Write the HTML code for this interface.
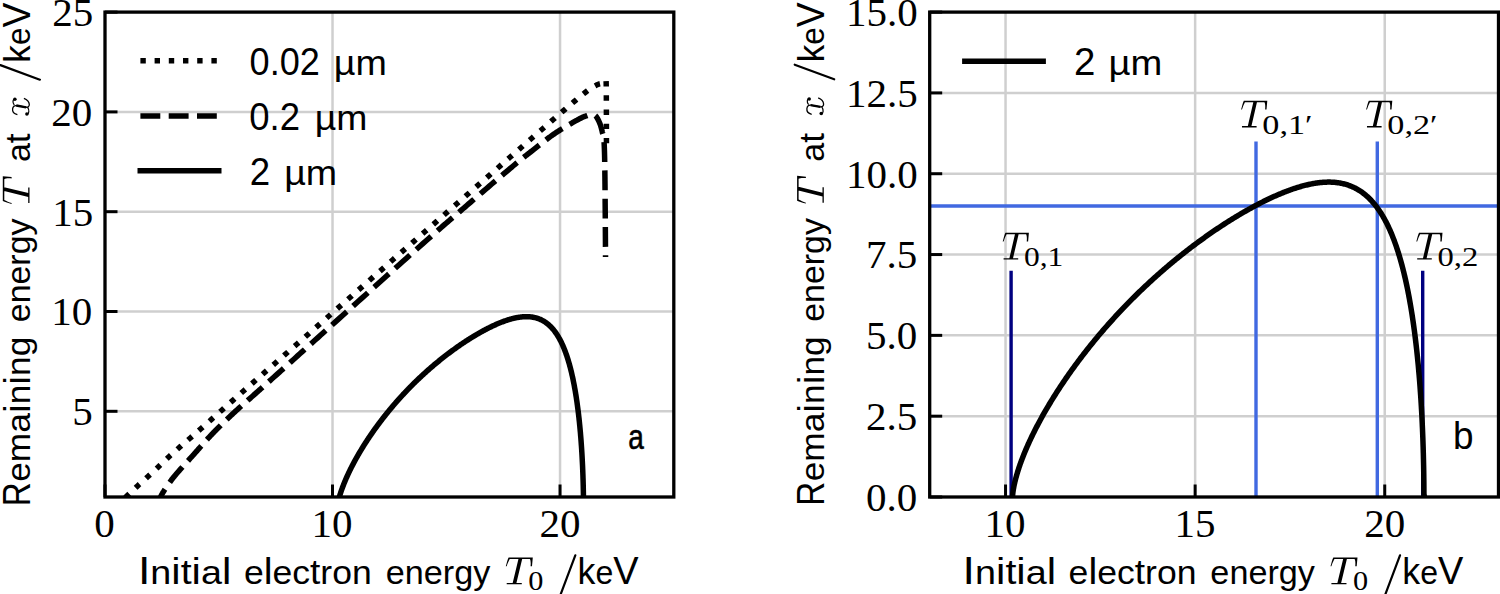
<!DOCTYPE html><html><head><meta charset="utf-8"><style>html,body{margin:0;padding:0;background:#fff;overflow:hidden}svg{display:block}.t{font-family:"Liberation Serif",serif}.s{font-family:"Liberation Sans",sans-serif}.i{font-family:"Liberation Serif",serif;font-style:italic}</style></head><body>
<svg width="1500" height="594" viewBox="0 0 1500 594">
<defs><clipPath id="cl"><rect x="105.00" y="12.10" width="568.80" height="484.90"/></clipPath><path id="Tg" d="M0,-17.9C0.9,-21 1.7,-24.5 2.8,-26.7L26.7,-26.7L25.9,-17.9L24.5,-17.9C24.8,-21.5 24.6,-24 23.8,-25.2L3.9,-25.2C2.8,-23 1.6,-20.5 0.9,-17.9Z M12.5,-25.3L16.2,-25.3L10.5,-1.2L6.8,-1.2Z M0.9,-1.3L15.8,-1.3L15.8,0L0.9,0Z"/><clipPath id="cr"><rect x="929.70" y="12.10" width="568.80" height="484.90"/></clipPath></defs>
<rect width="1500" height="594" fill="#fff"/>
<g stroke="#cfcfcf" stroke-width="2.50"><line x1="332.52" y1="12.10" x2="332.52" y2="497.00"/><line x1="560.04" y1="12.10" x2="560.04" y2="497.00"/><line x1="105.00" y1="411.30" x2="673.80" y2="411.30"/><line x1="105.00" y1="311.50" x2="673.80" y2="311.50"/><line x1="105.00" y1="211.70" x2="673.80" y2="211.70"/><line x1="105.00" y1="111.90" x2="673.80" y2="111.90"/></g>
<g clip-path="url(#cl)" fill="none" stroke="#000" stroke-width="5.50">
<path d="M123.20,499.52 L123.52,499.22 L123.89,498.86 L124.31,498.47 L124.78,498.02 L125.28,497.55 L125.82,497.03 L126.39,496.49 L126.99,495.92 L127.61,495.32 L128.26,494.71 L128.92,494.08 L129.59,493.44 L130.28,492.79 L130.96,492.13 L131.65,491.47 L132.34,490.82 L133.02,490.18 L133.70,489.54 L134.36,488.92 L135.00,488.31 L135.62,487.73 L136.21,487.17 L136.78,486.65 L137.31,486.15 L137.82,485.68 L138.31,485.22 L138.80,484.77 L139.28,484.33 L139.75,483.91 L140.21,483.49 L140.66,483.08 L141.11,482.68 L141.55,482.28 L141.99,481.89 L142.42,481.50 L142.85,481.12 L143.27,480.74 L143.69,480.37 L144.11,480.00 L144.53,479.62 L144.94,479.25 L145.36,478.88 L145.78,478.50 L146.20,478.12 L146.62,477.74 L147.05,477.36 L147.48,476.97 L147.91,476.57 L148.35,476.17 L148.78,475.77 L149.22,475.37 L149.65,474.97 L150.08,474.58 L150.51,474.18 L150.95,473.78 L151.38,473.38 L151.81,472.99 L152.24,472.59 L152.67,472.19 L153.10,471.79 L153.53,471.39 L153.96,470.99 L154.38,470.60 L154.81,470.20 L155.24,469.80 L155.67,469.40 L156.10,469.00 L156.53,468.60 L156.95,468.20 L157.38,467.79 L157.81,467.39 L158.24,466.99 L158.67,466.58 L159.09,466.18 L159.52,465.77 L159.95,465.37 L160.37,464.96 L160.80,464.55 L161.22,464.14 L161.64,463.74 L162.07,463.33 L162.49,462.92 L162.91,462.51 L163.34,462.10 L163.76,461.69 L164.18,461.28 L164.61,460.87 L165.03,460.46 L165.46,460.05 L165.89,459.64 L166.32,459.24 L166.75,458.83 L167.18,458.42 L167.61,458.02 L168.04,457.61 L168.48,457.21 L168.91,456.81 L169.32,456.43 L169.72,456.06 L170.11,455.70 L170.49,455.35 L170.87,455.01 L171.24,454.67 L171.61,454.33 L171.98,454.00 L172.36,453.66 L172.74,453.31 L173.13,452.97 L173.53,452.61 L173.93,452.25 L174.36,451.87 L174.80,451.48 L175.26,451.07 L175.74,450.65 L176.24,450.21 L176.77,449.74 L177.32,449.25 L177.90,448.74 L178.52,448.20 L179.17,447.63 L179.84,447.04 L180.52,446.45 L181.20,445.86 L181.89,445.26 L182.59,444.65 L183.31,444.03 L184.04,443.41 L184.78,442.76 L185.55,442.10 L186.33,441.43 L187.14,440.73 L187.97,440.02 L188.83,439.28 L189.72,438.51 L190.64,437.72 L191.58,436.90 L192.57,436.05 L193.59,435.16 L194.64,434.25 L195.74,433.29 L196.88,432.30 L198.06,431.26 L199.28,430.19 L200.56,429.06 L201.87,427.91 L203.20,426.73 L204.55,425.53 L205.94,424.31 L207.34,423.06 L208.78,421.78 L210.25,420.48 L211.75,419.14 L213.28,417.78 L214.85,416.38 L216.46,414.95 L218.11,413.48 L219.79,411.98 L221.52,410.44 L223.29,408.87 L225.11,407.25 L226.98,405.59 L228.90,403.89 L230.86,402.15 L232.88,400.36 L234.95,398.53 L237.08,396.65 L239.27,394.72 L241.51,392.74 L243.81,390.71 L246.17,388.64 L248.58,386.52 L251.04,384.35 L253.56,382.15 L256.12,379.90 L258.74,377.60 L261.40,375.27 L264.11,372.89 L266.86,370.48 L269.67,368.02 L272.51,365.53 L275.40,363.00 L278.33,360.43 L281.31,357.82 L284.32,355.18 L287.37,352.51 L290.46,349.80 L293.59,347.05 L296.76,344.28 L299.96,341.47 L303.20,338.63 L306.47,335.76 L309.77,332.86 L313.12,329.91 L316.56,326.89 L320.06,323.81 L323.62,320.68 L327.24,317.49 L330.92,314.26 L334.65,310.98 L338.42,307.66 L342.23,304.30 L346.08,300.92 L349.95,297.51 L353.85,294.07 L357.77,290.62 L361.70,287.16 L365.65,283.69 L369.60,280.21 L373.55,276.74 L377.49,273.27 L381.43,269.81 L385.34,266.37 L389.24,262.94 L393.12,259.54 L396.97,256.16 L400.78,252.82 L404.60,249.46 L408.49,246.05 L412.43,242.60 L416.42,239.11 L420.44,235.58 L424.49,232.04 L428.55,228.48 L432.63,224.91 L436.70,221.34 L440.77,217.79 L444.82,214.24 L448.84,210.73 L452.83,207.24 L456.77,203.79 L460.66,200.39 L464.48,197.05 L468.24,193.76 L471.91,190.55 L475.50,187.42 L478.99,184.37 L482.37,181.41 L485.63,178.55 L488.78,175.81 L491.78,173.18 L494.68,170.65 L497.48,168.20 L500.20,165.82 L502.83,163.52 L505.38,161.29 L507.85,159.13 L510.24,157.04 L512.56,155.01 L514.81,153.05 L516.99,151.14 L519.11,149.30 L521.16,147.50 L523.15,145.76 L525.09,144.08 L526.97,142.44 L528.79,140.84 L530.57,139.29 L532.30,137.78 L533.99,136.31 L535.63,134.88 L537.23,133.48 L538.80,132.11 L540.34,130.78 L541.84,129.46 L543.28,128.21 L544.62,127.04 L545.88,125.94 L547.06,124.91 L548.16,123.95 L549.20,123.05 L550.17,122.20 L551.08,121.40 L551.95,120.64 L552.77,119.93 L553.56,119.24 L554.31,118.59 L555.04,117.95 L555.75,117.33 L556.45,116.73 L557.14,116.13 L557.83,115.53 L558.53,114.93 L559.25,114.31 L559.98,113.68 L560.74,113.03 L561.53,112.35 L562.35,111.65 L563.23,110.90 L564.13,110.13 L565.05,109.34 L565.99,108.54 L566.94,107.73 L567.89,106.91 L568.86,106.08 L569.83,105.25 L570.80,104.42 L571.77,103.59 L572.75,102.76 L573.71,101.94 L574.67,101.12 L575.62,100.32 L576.56,99.52 L577.49,98.74 L578.40,97.98 L579.29,97.24 L580.17,96.51 L581.02,95.81 L581.84,95.14 L582.64,94.49 L583.40,93.87 L584.14,93.29 L584.84,92.74 L585.51,92.22 L586.15,91.73 L586.77,91.26 L587.36,90.82 L587.94,90.40 L588.49,90.01 L589.01,89.63 L589.52,89.28 L590.02,88.94 L590.49,88.62 L590.95,88.32 L591.40,88.04 L591.83,87.76 L592.24,87.50 L592.65,87.25 L593.05,87.02 L593.43,86.79 L593.81,86.57 L594.19,86.35 L594.55,86.15 L594.92,85.94 L595.28,85.75 L595.63,85.55 L595.99,85.35 L596.34,85.17 L596.67,84.99 L597.00,84.83 L597.31,84.69 L597.61,84.55 L597.89,84.43 L598.17,84.32 L598.44,84.21 L598.70,84.12 L598.95,84.04 L599.19,83.96 L599.43,83.89 L599.66,83.83 L599.88,83.77 L600.10,83.72 L600.31,83.68 L600.52,83.63 L600.72,83.59 L600.92,83.55 L601.12,83.51 L601.32,83.47 L601.51,83.44 L601.71,83.40 L601.90,83.36 L602.10,83.32 L602.28,83.28 L602.47,83.24 L602.65,83.21 L602.82,83.18 L602.99,83.16 L603.16,83.13 L603.32,83.11 L603.48,83.10 L603.63,83.08 L603.78,83.08 L603.92,83.07 L604.06,83.07 L604.20,83.07 L604.33,83.08 L604.46,83.09 L604.58,83.11 L604.70,83.13 L604.81,83.15 L604.92,83.18 L605.03,83.22 L605.13,83.26 L605.22,83.31 L605.32,83.36 L605.40,83.37 L605.48,83.30 L605.55,83.17 L605.62,82.98 L605.68,82.74 L605.74,82.48 L605.79,82.20 L605.83,81.91 L605.87,81.62 L605.91,81.35 L605.94,81.11 L605.97,80.91 L606.00,80.76 L606.02,80.68 L606.05,80.67 L606.07,80.75 L606.09,80.93 L606.11,81.21 L606.12,81.63 L606.14,82.17 L606.16,82.87 L606.18,83.72 L606.20,84.75 L606.23,85.95 L606.25,87.40 L606.27,89.13 L606.29,91.11 L606.31,93.31 L606.32,95.72 L606.34,98.30 L606.35,101.03 L606.36,103.89 L606.37,106.84 L606.38,109.87 L606.39,112.95 L606.40,116.05 L606.40,119.15 L606.41,122.23 L606.42,125.25 L606.42,128.19 L606.42,131.02 L606.43,133.73 L606.43,136.28 L606.44,138.65 L606.44,140.82 L606.45,142.76 L606.45,144.44 L606.45,145.83" stroke-dasharray="5.40 8.80" stroke-dashoffset="11.35"/>
<path d="M159.15,500.12 L159.22,499.97 L159.30,499.81 L159.38,499.62 L159.47,499.42 L159.57,499.20 L159.67,498.97 L159.78,498.72 L159.90,498.47 L160.02,498.20 L160.15,497.92 L160.28,497.63 L160.42,497.33 L160.56,497.02 L160.70,496.71 L160.85,496.40 L161.00,496.08 L161.16,495.76 L161.32,495.43 L161.48,495.11 L161.65,494.79 L161.82,494.47 L161.99,494.15 L162.16,493.84 L162.34,493.54 L162.51,493.23 L162.69,492.93 L162.87,492.62 L163.06,492.31 L163.25,492.00 L163.44,491.69 L163.64,491.38 L163.83,491.07 L164.04,490.75 L164.24,490.43 L164.45,490.11 L164.67,489.78 L164.88,489.45 L165.11,489.12 L165.33,488.78 L165.56,488.44 L165.80,488.10 L166.04,487.75 L166.28,487.39 L166.53,487.04 L166.78,486.67 L167.04,486.30 L167.30,485.93 L167.57,485.55 L167.83,485.17 L168.09,484.80 L168.34,484.44 L168.59,484.08 L168.83,483.73 L169.07,483.37 L169.31,483.02 L169.56,482.66 L169.81,482.30 L170.06,481.93 L170.32,481.56 L170.60,481.17 L170.88,480.78 L171.18,480.37 L171.49,479.94 L171.82,479.50 L172.17,479.05 L172.54,478.57 L172.94,478.07 L173.35,477.54 L173.80,476.99 L174.27,476.41 L174.77,475.81 L175.30,475.17 L175.87,474.50 L176.48,473.79 L177.12,473.05 L177.79,472.28 L178.49,471.48 L179.22,470.65 L179.97,469.80 L180.74,468.93 L181.53,468.04 L182.34,467.14 L183.16,466.22 L183.99,465.29 L184.83,464.35 L185.68,463.41 L186.53,462.47 L187.39,461.52 L188.24,460.57 L189.09,459.63 L189.93,458.70 L190.76,457.77 L191.59,456.86 L192.39,455.96 L193.19,455.08 L193.96,454.21 L194.72,453.36 L195.47,452.52 L196.22,451.68 L196.96,450.84 L197.69,450.01 L198.42,449.18 L199.15,448.35 L199.88,447.52 L200.60,446.70 L201.33,445.88 L202.05,445.06 L202.78,444.23 L203.51,443.41 L204.24,442.59 L204.97,441.77 L205.72,440.94 L206.46,440.12 L207.22,439.29 L207.98,438.46 L208.75,437.63 L209.53,436.79 L210.32,435.95 L211.12,435.10 L211.93,434.25 L212.76,433.40 L213.60,432.54 L214.44,431.67 L215.30,430.80 L216.17,429.92 L217.04,429.04 L217.92,428.16 L218.81,427.28 L219.70,426.39 L220.60,425.50 L221.50,424.61 L222.41,423.73 L223.32,422.84 L224.23,421.95 L225.14,421.07 L226.06,420.19 L226.97,419.31 L227.89,418.43 L228.80,417.56 L229.71,416.70 L230.62,415.84 L231.52,414.98 L232.43,414.14 L233.32,413.30 L234.22,412.46 L235.11,411.64 L236.01,410.81 L236.90,409.99 L237.80,409.18 L238.70,408.37 L239.60,407.56 L240.50,406.76 L241.40,405.96 L242.29,405.16 L243.19,404.37 L244.09,403.58 L244.99,402.79 L245.89,402.00 L246.79,401.21 L247.68,400.43 L248.58,399.64 L249.48,398.85 L250.37,398.07 L251.26,397.28 L252.16,396.50 L253.05,395.71 L253.93,394.92 L254.82,394.13 L255.68,393.37 L256.48,392.66 L257.23,391.99 L257.94,391.36 L258.62,390.75 L259.28,390.17 L259.92,389.60 L260.55,389.04 L261.18,388.48 L261.82,387.92 L262.47,387.34 L263.15,386.74 L263.85,386.11 L264.60,385.45 L265.39,384.74 L266.23,383.99 L267.14,383.18 L268.11,382.31 L269.17,381.37 L270.30,380.35 L271.54,379.25 L272.87,378.06 L274.31,376.77 L275.87,375.37 L277.52,373.89 L279.23,372.35 L281.02,370.75 L282.86,369.10 L284.77,367.38 L286.74,365.61 L288.77,363.78 L290.87,361.90 L293.02,359.95 L295.24,357.96 L297.52,355.91 L299.86,353.80 L302.26,351.64 L304.72,349.43 L307.24,347.17 L309.82,344.85 L312.46,342.48 L315.15,340.06 L317.91,337.58 L320.72,335.06 L323.58,332.49 L326.51,329.87 L329.49,327.19 L332.52,324.47 L335.68,321.64 L339.02,318.65 L342.52,315.51 L346.16,312.24 L349.94,308.85 L353.82,305.37 L357.80,301.80 L361.85,298.16 L365.97,294.48 L370.12,290.75 L374.30,287.01 L378.48,283.26 L382.65,279.52 L386.80,275.81 L390.89,272.14 L394.93,268.53 L398.88,264.99 L402.74,261.54 L406.48,258.20 L410.09,254.98 L413.55,251.90 L416.84,248.97 L419.94,246.21 L422.85,243.64 L425.56,241.23 L428.13,238.96 L430.56,236.82 L432.86,234.80 L435.03,232.89 L437.10,231.08 L439.06,229.36 L440.94,227.73 L442.73,226.17 L444.46,224.67 L446.12,223.23 L447.73,221.84 L449.30,220.49 L450.84,219.16 L452.36,217.86 L453.87,216.56 L455.38,215.27 L456.90,213.97 L458.44,212.66 L460.00,211.31 L461.61,209.94 L463.26,208.52 L464.97,207.05 L466.76,205.51 L468.59,203.93 L470.46,202.32 L472.36,200.69 L474.28,199.04 L476.21,197.38 L478.16,195.70 L480.12,194.02 L482.08,192.34 L484.04,190.66 L485.99,188.98 L487.93,187.32 L489.86,185.66 L491.77,184.03 L493.66,182.42 L495.52,180.83 L497.35,179.28 L499.13,177.75 L500.88,176.27 L502.58,174.83 L504.23,173.43 L505.82,172.08 L507.35,170.79 L508.82,169.56 L510.21,168.39 L511.54,167.28 L512.79,166.24 L513.97,165.25 L515.09,164.33 L516.16,163.45 L517.17,162.62 L518.14,161.83 L519.06,161.08 L519.95,160.36 L520.80,159.67 L521.63,159.01 L522.43,158.37 L523.21,157.75 L523.98,157.14 L524.75,156.53 L525.51,155.94 L526.27,155.34 L527.04,154.74 L527.82,154.13 L528.61,153.51 L529.43,152.87 L530.27,152.22 L531.15,151.53 L532.06,150.82 L532.99,150.09 L533.92,149.36 L534.85,148.62 L535.79,147.88 L536.72,147.13 L537.66,146.39 L538.60,145.64 L539.55,144.89 L540.49,144.15 L541.44,143.40 L542.38,142.66 L543.33,141.91 L544.28,141.18 L545.23,140.44 L546.19,139.71 L547.14,138.99 L548.09,138.27 L549.05,137.55 L550.01,136.85 L550.97,136.15 L551.92,135.46 L552.88,134.78 L553.85,134.12 L554.81,133.46 L555.78,132.80 L556.78,132.14 L557.80,131.48 L558.84,130.82 L559.89,130.15 L560.95,129.49 L562.02,128.83 L563.10,128.18 L564.17,127.53 L565.25,126.89 L566.32,126.26 L567.38,125.63 L568.43,125.02 L569.46,124.43 L570.47,123.84 L571.47,123.28 L572.43,122.73 L573.37,122.20 L574.28,121.69 L575.16,121.20 L575.99,120.73 L576.79,120.29 L577.54,119.87 L578.24,119.48 L578.90,119.13 L579.52,118.79 L580.10,118.49 L580.64,118.21 L581.15,117.95 L581.63,117.71 L582.08,117.50 L582.51,117.30 L582.90,117.13 L583.28,116.96 L583.64,116.81 L583.97,116.68 L584.29,116.55 L584.60,116.44 L584.89,116.33 L585.18,116.23 L585.45,116.14 L585.72,116.05 L585.99,115.96 L586.25,115.87 L586.52,115.78 L586.79,115.69 L587.06,115.59 L587.34,115.49 L587.62,115.39 L587.88,115.30 L588.13,115.21 L588.37,115.12 L588.60,115.04 L588.81,114.97 L589.02,114.90 L589.21,114.83 L589.40,114.78 L589.58,114.72 L589.76,114.68 L589.93,114.63 L590.10,114.59 L590.26,114.56 L590.42,114.53 L590.58,114.51 L590.74,114.49 L590.89,114.48 L591.05,114.47 L591.21,114.46 L591.38,114.47 L591.54,114.47 L591.72,114.48 L591.89,114.49 L592.07,114.51 L592.25,114.53 L592.43,114.54 L592.60,114.56 L592.78,114.58 L592.95,114.61 L593.12,114.63 L593.29,114.66 L593.46,114.70 L593.63,114.74 L593.80,114.79 L593.97,114.84 L594.14,114.91 L594.30,114.98 L594.47,115.06 L594.64,115.15 L594.81,115.24 L594.97,115.36 L595.14,115.48 L595.31,115.61 L595.48,115.76 L595.65,115.92 L595.82,116.10 L595.99,116.29 L596.16,116.50 L596.33,116.73 L596.51,116.97 L596.69,117.23 L596.87,117.50 L597.05,117.78 L597.23,118.08 L597.41,118.39 L597.59,118.71 L597.78,119.04 L597.96,119.38 L598.14,119.72 L598.31,120.07 L598.49,120.43 L598.66,120.79 L598.84,121.16 L599.01,121.52 L599.17,121.89 L599.33,122.26 L599.49,122.63 L599.65,122.99 L599.80,123.36 L599.94,123.72 L600.08,124.08 L600.22,124.43 L600.35,124.80 L600.48,125.17 L600.61,125.56 L600.73,125.94 L600.85,126.33 L600.96,126.73 L601.08,127.13 L601.19,127.53 L601.30,127.93 L601.40,128.34 L601.51,128.74 L601.61,129.14 L601.70,129.54 L601.80,129.94 L601.90,130.34 L601.99,130.73 L602.08,131.11 L602.17,131.49 L602.25,131.86 L602.34,132.22 L602.42,132.58 L602.51,132.92 L602.59,133.26 L602.67,133.56 L602.74,133.82 L602.81,134.03 L602.88,134.21 L602.95,134.36 L603.02,134.49 L603.08,134.60 L603.14,134.71 L603.20,134.80 L603.26,134.90 L603.31,135.01 L603.37,135.13 L603.42,135.27 L603.47,135.43 L603.52,135.63 L603.57,135.87 L603.62,136.15 L603.67,136.48 L603.72,136.86 L603.76,137.31 L603.81,137.83 L603.86,138.42 L603.90,139.09 L603.95,139.84 L604.00,140.65 L604.04,141.45 L604.09,142.26 L604.13,143.08 L604.17,143.93 L604.22,144.80 L604.26,145.70 L604.30,146.64 L604.34,147.62 L604.37,148.66 L604.41,149.74 L604.45,150.90 L604.49,152.12 L604.52,153.41 L604.56,154.79 L604.59,156.25 L604.63,157.80 L604.66,159.45 L604.69,161.21 L604.73,163.08 L604.76,165.06 L604.80,167.17 L604.83,169.41 L604.86,171.78 L604.89,174.38 L604.93,177.29 L604.96,180.47 L605.00,183.89 L605.03,187.52 L605.06,191.34 L605.10,195.31 L605.13,199.40 L605.16,203.58 L605.20,207.83 L605.23,212.11 L605.26,216.39 L605.29,220.64 L605.32,224.84 L605.35,228.95 L605.38,232.94 L605.40,236.78 L605.43,240.45 L605.45,243.90 L605.47,247.12 L605.49,250.07 L605.51,252.72 L605.53,255.04 L605.54,257.01" stroke-dasharray="19.90 8.40" stroke-dashoffset="7.57"/>
<path d="M336.50,511.10 L336.72,511.00 L336.72,510.84 L336.73,510.65 L336.74,510.44 L336.76,510.21 L336.77,509.97 L336.79,509.71 L336.82,509.44 L336.84,509.16 L336.87,508.87 L336.91,508.56 L336.95,508.25 L336.99,507.93 L337.03,507.61 L337.08,507.27 L337.13,506.93 L337.18,506.58 L337.24,506.22 L337.30,505.86 L337.37,505.49 L337.43,505.11 L337.50,504.73 L337.58,504.34 L337.66,503.95 L337.74,503.55 L337.82,503.15 L337.91,502.74 L338.00,502.33 L338.10,501.91 L338.19,501.49 L338.29,501.06 L338.40,500.63 L338.51,500.19 L338.62,499.75 L338.73,499.31 L338.85,498.86 L338.97,498.41 L339.10,497.95 L339.22,497.49 L339.35,497.02 L339.49,496.56 L339.63,496.08 L339.77,495.61 L339.91,495.13 L340.06,494.65 L340.21,494.16 L340.37,493.67 L340.52,493.18 L340.68,492.68 L340.85,492.18 L341.02,491.68 L341.19,491.18 L341.36,490.67 L341.54,490.16 L341.72,489.64 L341.90,489.12 L342.09,488.60 L342.28,488.08 L342.47,487.55 L342.67,487.02 L342.87,486.49 L343.07,485.96 L343.28,485.42 L343.49,484.88 L343.70,484.34 L343.92,483.80 L344.14,483.25 L344.36,482.70 L344.59,482.15 L344.82,481.59 L345.05,481.04 L345.29,480.48 L345.52,479.91 L345.77,479.35 L346.01,478.78 L346.26,478.22 L346.51,477.65 L346.76,477.07 L347.02,476.50 L347.28,475.92 L347.55,475.34 L347.81,474.76 L348.08,474.18 L348.36,473.59 L348.63,473.01 L348.91,472.42 L349.19,471.83 L349.48,471.23 L349.77,470.64 L350.06,470.04 L350.35,469.45 L350.65,468.85 L350.95,468.24 L351.25,467.64 L351.56,467.04 L351.87,466.43 L352.18,465.82 L352.50,465.21 L352.82,464.60 L353.14,463.99 L353.46,463.37 L353.79,462.76 L354.12,462.14 L354.46,461.52 L354.79,460.90 L355.13,460.28 L355.47,459.66 L355.82,459.03 L356.17,458.41 L356.52,457.78 L356.87,457.15 L357.23,456.53 L357.59,455.90 L357.95,455.26 L358.31,454.63 L358.68,454.00 L359.05,453.36 L359.42,452.73 L359.80,452.09 L360.18,451.45 L360.56,450.81 L360.95,450.18 L361.33,449.53 L361.72,448.89 L362.12,448.25 L362.51,447.61 L362.91,446.96 L363.31,446.32 L363.71,445.67 L364.12,445.03 L364.53,444.38 L364.94,443.73 L365.35,443.09 L365.77,442.44 L366.19,441.79 L366.61,441.14 L367.04,440.49 L367.46,439.84 L367.89,439.19 L368.33,438.53 L368.76,437.88 L369.20,437.23 L369.64,436.58 L370.08,435.92 L370.53,435.27 L370.97,434.62 L371.42,433.96 L371.87,433.31 L372.33,432.65 L372.79,432.00 L373.25,431.34 L373.71,430.69 L374.17,430.03 L374.64,429.38 L375.11,428.72 L375.58,428.07 L376.05,427.41 L376.53,426.76 L377.01,426.10 L377.49,425.45 L377.97,424.80 L378.46,424.14 L378.95,423.49 L379.44,422.83 L379.93,422.18 L380.42,421.52 L380.92,420.87 L381.42,420.22 L381.92,419.56 L382.42,418.91 L382.93,418.26 L383.43,417.61 L383.94,416.96 L384.45,416.31 L384.97,415.66 L385.48,415.01 L386.00,414.36 L386.52,413.71 L387.04,413.06 L387.57,412.41 L388.09,411.77 L388.62,411.12 L389.15,410.47 L389.68,409.83 L390.22,409.19 L390.75,408.54 L391.29,407.90 L391.83,407.26 L392.37,406.62 L392.92,405.98 L393.46,405.34 L394.01,404.70 L394.56,404.06 L395.11,403.42 L395.66,402.79 L396.22,402.15 L396.77,401.52 L397.33,400.89 L397.89,400.26 L398.45,399.63 L399.01,399.00 L399.58,398.37 L400.15,397.74 L400.71,397.12 L401.28,396.49 L401.86,395.87 L402.43,395.24 L403.00,394.62 L403.58,394.00 L404.16,393.38 L404.74,392.77 L405.32,392.15 L405.90,391.54 L406.48,390.92 L407.07,390.31 L407.66,389.70 L408.25,389.09 L408.83,388.48 L409.43,387.88 L410.02,387.27 L410.61,386.67 L411.21,386.07 L411.80,385.46 L412.40,384.87 L413.00,384.27 L413.60,383.67 L414.21,383.08 L414.81,382.48 L415.41,381.89 L416.02,381.30 L416.63,380.72 L417.23,380.13 L417.84,379.55 L418.45,378.96 L419.07,378.38 L419.68,377.80 L420.29,377.22 L420.91,376.65 L421.52,376.07 L422.14,375.50 L422.76,374.93 L423.38,374.36 L424.00,373.79 L424.62,373.23 L425.24,372.66 L425.87,372.10 L426.49,371.54 L427.12,370.98 L427.74,370.43 L428.37,369.87 L429.00,369.32 L429.63,368.77 L430.25,368.22 L430.89,367.67 L431.52,367.13 L432.15,366.59 L432.78,366.05 L433.41,365.51 L434.05,364.97 L434.68,364.44 L435.32,363.90 L435.96,363.37 L436.59,362.84 L437.23,362.32 L437.87,361.79 L438.51,361.27 L439.15,360.75 L439.79,360.23 L440.43,359.71 L441.07,359.20 L441.71,358.69 L442.35,358.18 L443.00,357.67 L443.64,357.16 L444.28,356.66 L444.93,356.16 L445.57,355.66 L446.22,355.16 L446.86,354.67 L447.51,354.17 L448.15,353.68 L448.80,353.20 L449.45,352.71 L450.09,352.23 L450.74,351.75 L451.39,351.27 L452.04,350.79 L452.69,350.32 L453.33,349.84 L453.98,349.37 L454.63,348.91 L455.28,348.44 L455.93,347.98 L456.58,347.52 L457.23,347.06 L457.88,346.60 L458.52,346.15 L459.17,345.70 L459.82,345.25 L460.47,344.81 L461.12,344.36 L461.77,343.92 L462.42,343.48 L463.07,343.05 L463.72,342.62 L464.37,342.18 L465.02,341.76 L465.66,341.33 L466.31,340.91 L466.96,340.49 L467.61,340.07 L468.26,339.65 L468.91,339.24 L469.55,338.83 L470.20,338.43 L470.85,338.02 L471.49,337.62 L472.14,337.22 L472.79,336.83 L473.43,336.43 L474.08,336.04 L474.72,335.65 L475.37,335.27 L476.01,334.89 L476.65,334.51 L477.30,334.13 L477.94,333.76 L478.58,333.39 L479.22,333.02 L479.86,332.66 L480.51,332.30 L481.15,331.94 L481.78,331.58 L482.42,331.23 L483.06,330.88 L483.70,330.54 L484.34,330.20 L484.97,329.86 L485.61,329.52 L486.24,329.19 L486.88,328.86 L487.51,328.54 L488.14,328.21 L488.78,327.90 L489.41,327.58 L490.04,327.27 L490.67,326.96 L491.29,326.66 L491.92,326.35 L492.55,326.06 L493.17,325.76 L493.80,325.47 L494.42,325.19 L495.05,324.91 L495.67,324.63 L496.29,324.35 L496.91,324.08 L497.53,323.81 L498.15,323.55 L498.76,323.29 L499.38,323.04 L499.99,322.79 L500.61,322.54 L501.22,322.30 L501.83,322.06 L502.44,321.83 L503.05,321.60 L503.66,321.37 L504.27,321.15 L504.87,320.94 L505.47,320.73 L506.08,320.52 L506.68,320.32 L507.28,320.12 L507.88,319.93 L508.48,319.74 L509.07,319.56 L509.67,319.38 L510.26,319.21 L510.85,319.04 L511.44,318.88 L512.03,318.72 L512.62,318.57 L513.21,318.42 L513.79,318.28 L514.37,318.15 L514.96,318.02 L515.54,317.89 L516.11,317.77 L516.69,317.66 L517.27,317.55 L517.84,317.45 L518.41,317.35 L518.98,317.26 L519.55,317.18 L520.12,317.10 L520.68,317.03 L521.25,316.96 L521.81,316.91 L522.37,316.85 L522.93,316.81 L523.49,316.77 L524.04,316.73 L524.59,316.71 L525.15,316.69 L525.70,316.67 L526.24,316.67 L526.79,316.67 L527.33,316.68 L527.87,316.69 L528.41,316.71 L528.95,316.74 L529.49,316.78 L530.02,316.83 L530.56,316.88 L531.09,316.94 L531.61,317.00 L532.14,317.08 L532.66,317.16 L533.19,317.25 L533.71,317.35 L534.22,317.46 L534.74,317.57 L535.25,317.70 L535.77,317.83 L536.28,317.97 L536.78,318.12 L537.29,318.27 L537.79,318.44 L538.29,318.61 L538.79,318.80 L539.29,318.99 L539.78,319.19 L540.27,319.40 L540.76,319.62 L541.25,319.85 L541.74,320.09 L542.22,320.34 L542.70,320.59 L543.18,320.86 L543.66,321.14 L544.13,321.42 L544.60,321.72 L545.07,322.02 L545.54,322.34 L546.00,322.67 L546.46,323.00 L546.92,323.35 L547.38,323.71 L547.84,324.07 L548.29,324.45 L548.74,324.84 L549.19,325.24 L549.63,325.65 L550.08,326.07 L550.52,326.50 L550.96,326.94 L551.39,327.40 L551.82,327.86 L552.25,328.34 L552.68,328.83 L553.11,329.33 L553.53,329.84 L553.95,330.36 L554.37,330.89 L554.78,331.44 L555.20,332.00 L555.61,332.57 L556.01,333.15 L556.42,333.74 L556.82,334.35 L557.22,334.96 L557.62,335.59 L558.01,336.24 L558.40,336.89 L558.79,337.56 L559.18,338.23 L559.56,338.93 L559.94,339.63 L560.32,340.35 L560.70,341.08 L561.07,341.82 L561.44,342.57 L561.81,343.34 L562.17,344.12 L562.53,344.91 L562.89,345.72 L563.25,346.54 L563.60,347.37 L563.95,348.21 L564.30,349.07 L564.64,349.94 L564.98,350.83 L565.32,351.72 L565.66,352.63 L565.99,353.56 L566.32,354.49 L566.65,355.44 L566.97,356.41 L567.29,357.38 L567.61,358.37 L567.93,359.37 L568.24,360.39 L568.55,361.42 L568.85,362.46 L569.16,363.52 L569.46,364.59 L569.75,365.67 L570.05,366.76 L570.34,367.87 L570.63,368.99 L570.91,370.13 L571.20,371.28 L571.48,372.44 L571.75,373.61 L572.02,374.80 L572.29,376.00 L572.56,377.21 L572.83,378.44 L573.09,379.68 L573.34,380.93 L573.60,382.20 L573.85,383.47 L574.10,384.76 L574.34,386.07 L574.58,387.38 L574.82,388.71 L575.06,390.05 L575.29,391.41 L575.52,392.77 L575.75,394.15 L575.97,395.54 L576.19,396.94 L576.41,398.36 L576.62,399.79 L576.83,401.22 L577.04,402.67 L577.24,404.14 L577.44,405.61 L577.64,407.10 L577.84,408.59 L578.03,410.10 L578.22,411.62 L578.40,413.15 L578.58,414.69 L578.76,416.24 L578.94,417.81 L579.11,419.38 L579.28,420.97 L579.44,422.56 L579.60,424.17 L579.76,425.78 L579.92,427.41 L580.07,429.04 L580.22,430.69 L580.37,432.34 L580.51,434.01 L580.65,435.68 L580.79,437.37 L580.92,439.06 L581.05,440.76 L581.18,442.47 L581.30,444.19 L581.42,445.92 L581.54,447.66 L581.65,449.40 L581.76,451.15 L581.87,452.91 L581.97,454.68 L582.07,456.46 L582.17,458.24 L582.26,460.04 L582.35,461.83 L582.44,463.64 L582.53,465.45 L582.61,467.27 L582.68,469.10 L582.76,470.94 L582.83,472.78 L582.90,474.62 L582.96,476.48 L583.02,478.34 L583.08,480.20 L583.14,482.07 L583.19,483.95 L583.24,485.84 L583.28,487.73 L583.32,489.62 L583.36,491.53 L583.40,493.44 L583.43,495.35 L583.46,497.28 L583.48,499.21 L583.50,501.15 L583.52,503.10 L583.54,505.06 L583.55,507.04 L583.56,509.04 L583.82,511.10"/>
</g>
<g stroke="#000" stroke-width="3.00"><line x1="105.00" y1="497.00" x2="105.00" y2="484.50"/><line x1="332.52" y1="497.00" x2="332.52" y2="484.50"/><line x1="560.04" y1="497.00" x2="560.04" y2="484.50"/><line x1="105.00" y1="411.30" x2="117.50" y2="411.30"/><line x1="105.00" y1="311.50" x2="117.50" y2="311.50"/><line x1="105.00" y1="211.70" x2="117.50" y2="211.70"/><line x1="105.00" y1="111.90" x2="117.50" y2="111.90"/><line x1="105.00" y1="12.10" x2="117.50" y2="12.10"/></g>
<rect x="105.00" y="12.10" width="568.80" height="484.90" fill="none" stroke="#000" stroke-width="3.30"/>
<g stroke="#000" stroke-width="5.50" fill="none">
<line x1="140.40" y1="60.80" x2="216.80" y2="60.80" stroke-dasharray="5.4 8.8"/>
<line x1="140.40" y1="116.00" x2="216.80" y2="116.00" stroke-dasharray="19.9 8.4"/>
<line x1="137.50" y1="170.80" x2="221.50" y2="170.80"/>
</g>
<g stroke="#cfcfcf" stroke-width="2.50"><line x1="1005.54" y1="12.10" x2="1005.54" y2="497.00"/><line x1="1195.14" y1="12.10" x2="1195.14" y2="497.00"/><line x1="1384.74" y1="12.10" x2="1384.74" y2="497.00"/><line x1="929.70" y1="416.18" x2="1498.50" y2="416.18"/><line x1="929.70" y1="335.37" x2="1498.50" y2="335.37"/><line x1="929.70" y1="254.55" x2="1498.50" y2="254.55"/><line x1="929.70" y1="173.73" x2="1498.50" y2="173.73"/><line x1="929.70" y1="92.92" x2="1498.50" y2="92.92"/></g>
<g clip-path="url(#cr)">
<line x1="929.70" y1="206.06" x2="1498.50" y2="206.06" stroke="#4169e1" stroke-width="3.4"/>
<line x1="1256.00" y1="141.41" x2="1256.00" y2="497.00" stroke="#4169e1" stroke-width="3.4"/>
<line x1="1377.30" y1="141.41" x2="1377.30" y2="497.00" stroke="#4169e1" stroke-width="3.4"/>
<line x1="1011.10" y1="270.71" x2="1011.10" y2="497.00" stroke="#000080" stroke-width="3.4"/>
<line x1="1422.70" y1="270.71" x2="1422.70" y2="497.00" stroke="#000080" stroke-width="3.4"/>
<path d="M1012.18,497.00 L1012.54,496.84 L1012.54,496.58 L1012.56,496.27 L1012.58,495.93 L1012.60,495.56 L1012.63,495.17 L1012.66,494.75 L1012.70,494.31 L1012.75,493.86 L1012.80,493.38 L1012.85,492.89 L1012.92,492.39 L1012.99,491.87 L1013.06,491.34 L1013.14,490.80 L1013.22,490.24 L1013.31,489.68 L1013.41,489.10 L1013.51,488.51 L1013.62,487.91 L1013.73,487.30 L1013.85,486.68 L1013.97,486.06 L1014.10,485.42 L1014.24,484.78 L1014.38,484.12 L1014.52,483.46 L1014.67,482.79 L1014.83,482.12 L1014.99,481.43 L1015.16,480.74 L1015.34,480.04 L1015.52,479.33 L1015.70,478.62 L1015.89,477.90 L1016.09,477.17 L1016.29,476.44 L1016.50,475.70 L1016.71,474.95 L1016.93,474.20 L1017.16,473.44 L1017.38,472.68 L1017.62,471.91 L1017.86,471.13 L1018.11,470.35 L1018.36,469.56 L1018.62,468.77 L1018.88,467.97 L1019.15,467.17 L1019.42,466.36 L1019.70,465.55 L1019.98,464.73 L1020.27,463.91 L1020.57,463.08 L1020.87,462.25 L1021.18,461.41 L1021.49,460.56 L1021.81,459.72 L1022.13,458.86 L1022.46,458.01 L1022.79,457.15 L1023.13,456.28 L1023.48,455.41 L1023.82,454.54 L1024.18,453.66 L1024.54,452.78 L1024.91,451.89 L1025.28,451.00 L1025.65,450.11 L1026.04,449.21 L1026.42,448.31 L1026.82,447.40 L1027.21,446.49 L1027.62,445.58 L1028.02,444.66 L1028.44,443.74 L1028.86,442.82 L1029.28,441.89 L1029.71,440.96 L1030.14,440.03 L1030.58,439.09 L1031.03,438.15 L1031.48,437.20 L1031.93,436.26 L1032.39,435.31 L1032.86,434.35 L1033.33,433.39 L1033.80,432.44 L1034.29,431.47 L1034.77,430.51 L1035.26,429.54 L1035.76,428.57 L1036.26,427.59 L1036.76,426.62 L1037.28,425.64 L1037.79,424.65 L1038.31,423.67 L1038.84,422.68 L1039.37,421.69 L1039.91,420.70 L1040.45,419.70 L1040.99,418.71 L1041.54,417.71 L1042.10,416.71 L1042.66,415.70 L1043.22,414.69 L1043.79,413.69 L1044.37,412.68 L1044.95,411.66 L1045.53,410.65 L1046.12,409.63 L1046.72,408.61 L1047.32,407.59 L1047.92,406.57 L1048.53,405.55 L1049.14,404.52 L1049.76,403.49 L1050.38,402.46 L1051.01,401.43 L1051.64,400.40 L1052.28,399.36 L1052.92,398.33 L1053.56,397.29 L1054.21,396.25 L1054.87,395.21 L1055.53,394.17 L1056.19,393.13 L1056.86,392.08 L1057.53,391.04 L1058.21,389.99 L1058.89,388.94 L1059.57,387.90 L1060.26,386.85 L1060.96,385.80 L1061.66,384.74 L1062.36,383.69 L1063.07,382.64 L1063.78,381.59 L1064.50,380.53 L1065.22,379.48 L1065.94,378.42 L1066.67,377.36 L1067.40,376.31 L1068.14,375.25 L1068.88,374.19 L1069.63,373.13 L1070.38,372.07 L1071.13,371.01 L1071.89,369.95 L1072.65,368.89 L1073.42,367.83 L1074.19,366.77 L1074.96,365.71 L1075.74,364.65 L1076.52,363.59 L1077.31,362.53 L1078.10,361.47 L1078.89,360.40 L1079.69,359.34 L1080.49,358.28 L1081.29,357.22 L1082.10,356.16 L1082.92,355.10 L1083.73,354.04 L1084.55,352.98 L1085.38,351.93 L1086.20,350.87 L1087.04,349.81 L1087.87,348.75 L1088.71,347.70 L1089.55,346.64 L1090.40,345.58 L1091.25,344.53 L1092.10,343.47 L1092.95,342.42 L1093.81,341.37 L1094.68,340.32 L1095.54,339.27 L1096.41,338.22 L1097.29,337.17 L1098.16,336.12 L1099.04,335.07 L1099.93,334.03 L1100.81,332.98 L1101.70,331.94 L1102.60,330.90 L1103.49,329.86 L1104.39,328.82 L1105.30,327.78 L1106.20,326.74 L1107.11,325.71 L1108.02,324.67 L1108.94,323.64 L1109.86,322.61 L1110.78,321.58 L1111.70,320.55 L1112.63,319.53 L1113.56,318.50 L1114.49,317.48 L1115.43,316.46 L1116.36,315.44 L1117.31,314.42 L1118.25,313.41 L1119.20,312.39 L1120.15,311.38 L1121.10,310.37 L1122.05,309.36 L1123.01,308.36 L1123.97,307.35 L1124.94,306.35 L1125.90,305.35 L1126.87,304.35 L1127.84,303.36 L1128.81,302.36 L1129.79,301.37 L1130.77,300.38 L1131.75,299.40 L1132.73,298.41 L1133.72,297.43 L1134.70,296.45 L1135.69,295.47 L1136.69,294.50 L1137.68,293.52 L1138.68,292.55 L1139.68,291.59 L1140.68,290.62 L1141.68,289.66 L1142.69,288.70 L1143.70,287.74 L1144.70,286.79 L1145.72,285.83 L1146.73,284.88 L1147.75,283.94 L1148.76,282.99 L1149.78,282.05 L1150.80,281.11 L1151.83,280.18 L1152.85,279.24 L1153.88,278.31 L1154.91,277.39 L1155.94,276.46 L1156.97,275.54 L1158.01,274.62 L1159.04,273.70 L1160.08,272.79 L1161.12,271.88 L1162.16,270.97 L1163.20,270.07 L1164.24,269.17 L1165.29,268.27 L1166.33,267.38 L1167.38,266.49 L1168.43,265.60 L1169.48,264.71 L1170.53,263.83 L1171.59,262.95 L1172.64,262.07 L1173.70,261.20 L1174.76,260.33 L1175.81,259.47 L1176.87,258.60 L1177.93,257.74 L1179.00,256.89 L1180.06,256.03 L1181.12,255.18 L1182.19,254.34 L1183.25,253.49 L1184.32,252.65 L1185.39,251.82 L1186.46,250.99 L1187.53,250.16 L1188.60,249.33 L1189.67,248.51 L1190.74,247.69 L1191.81,246.87 L1192.89,246.06 L1193.96,245.25 L1195.04,244.45 L1196.11,243.65 L1197.19,242.85 L1198.26,242.05 L1199.34,241.26 L1200.42,240.48 L1201.50,239.69 L1202.58,238.91 L1203.66,238.14 L1204.74,237.37 L1205.82,236.60 L1206.90,235.83 L1207.98,235.07 L1209.06,234.32 L1210.14,233.56 L1211.22,232.81 L1212.30,232.07 L1213.38,231.33 L1214.47,230.59 L1215.55,229.85 L1216.63,229.12 L1217.71,228.40 L1218.79,227.68 L1219.88,226.96 L1220.96,226.24 L1222.04,225.53 L1223.12,224.83 L1224.20,224.13 L1225.29,223.43 L1226.37,222.74 L1227.45,222.05 L1228.53,221.36 L1229.61,220.68 L1230.69,220.00 L1231.77,219.33 L1232.85,218.66 L1233.93,218.00 L1235.01,217.34 L1236.09,216.69 L1237.16,216.04 L1238.24,215.39 L1239.32,214.75 L1240.39,214.11 L1241.47,213.48 L1242.54,212.85 L1243.62,212.23 L1244.69,211.61 L1245.76,211.00 L1246.84,210.39 L1247.91,209.78 L1248.98,209.18 L1250.05,208.59 L1251.11,208.00 L1252.18,207.42 L1253.25,206.84 L1254.31,206.26 L1255.38,205.69 L1256.44,205.13 L1257.51,204.57 L1258.57,204.02 L1259.63,203.47 L1260.69,202.92 L1261.75,202.38 L1262.80,201.85 L1263.86,201.32 L1264.91,200.80 L1265.97,200.29 L1267.02,199.78 L1268.07,199.27 L1269.12,198.77 L1270.16,198.28 L1271.21,197.79 L1272.25,197.31 L1273.30,196.83 L1274.34,196.36 L1275.38,195.90 L1276.42,195.44 L1277.45,194.99 L1278.49,194.55 L1279.52,194.11 L1280.55,193.68 L1281.58,193.25 L1282.61,192.83 L1283.64,192.42 L1284.66,192.01 L1285.69,191.62 L1286.71,191.22 L1287.73,190.84 L1288.74,190.46 L1289.76,190.09 L1290.77,189.72 L1291.78,189.37 L1292.79,189.02 L1293.80,188.68 L1294.80,188.34 L1295.81,188.02 L1296.81,187.70 L1297.80,187.38 L1298.80,187.08 L1299.79,186.79 L1300.78,186.50 L1301.77,186.22 L1302.76,185.95 L1303.75,185.68 L1304.73,185.43 L1305.71,185.18 L1306.68,184.95 L1307.66,184.72 L1308.63,184.50 L1309.60,184.29 L1310.57,184.08 L1311.53,183.89 L1312.49,183.71 L1313.45,183.53 L1314.41,183.37 L1315.36,183.21 L1316.31,183.07 L1317.26,182.93 L1318.21,182.81 L1319.15,182.69 L1320.09,182.58 L1321.02,182.49 L1321.96,182.40 L1322.89,182.33 L1323.82,182.26 L1324.74,182.21 L1325.66,182.17 L1326.58,182.13 L1327.50,182.11 L1328.41,182.10 L1329.32,182.11 L1330.23,182.12 L1331.13,182.14 L1332.03,182.18 L1332.93,182.23 L1333.82,182.29 L1334.71,182.36 L1335.60,182.44 L1336.48,182.54 L1337.36,182.65 L1338.24,182.77 L1339.11,182.90 L1339.98,183.05 L1340.85,183.21 L1341.71,183.38 L1342.57,183.57 L1343.43,183.77 L1344.28,183.98 L1345.13,184.21 L1345.98,184.45 L1346.82,184.70 L1347.66,184.97 L1348.49,185.26 L1349.32,185.55 L1350.15,185.86 L1350.98,186.19 L1351.80,186.53 L1352.61,186.89 L1353.43,187.26 L1354.23,187.64 L1355.04,188.04 L1355.84,188.46 L1356.64,188.89 L1357.43,189.34 L1358.22,189.80 L1359.01,190.28 L1359.79,190.78 L1360.57,191.29 L1361.34,191.82 L1362.11,192.36 L1362.88,192.92 L1363.64,193.50 L1364.40,194.10 L1365.16,194.71 L1365.91,195.34 L1366.65,195.98 L1367.40,196.65 L1368.13,197.33 L1368.87,198.03 L1369.60,198.75 L1370.32,199.48 L1371.05,200.24 L1371.76,201.01 L1372.48,201.80 L1373.19,202.61 L1373.89,203.43 L1374.59,204.28 L1375.29,205.14 L1375.98,206.03 L1376.67,206.93 L1377.35,207.85 L1378.03,208.79 L1378.71,209.75 L1379.38,210.73 L1380.04,211.73 L1380.70,212.75 L1381.36,213.79 L1382.01,214.85 L1382.66,215.93 L1383.31,217.03 L1383.95,218.15 L1384.58,219.29 L1385.21,220.45 L1385.84,221.63 L1386.46,222.83 L1387.07,224.06 L1387.68,225.30 L1388.29,226.56 L1388.89,227.85 L1389.49,229.15 L1390.08,230.48 L1390.67,231.82 L1391.26,233.19 L1391.83,234.58 L1392.41,235.99 L1392.98,237.42 L1393.54,238.88 L1394.10,240.35 L1394.66,241.85 L1395.21,243.36 L1395.75,244.90 L1396.29,246.46 L1396.83,248.04 L1397.36,249.64 L1397.88,251.27 L1398.40,252.91 L1398.92,254.58 L1399.43,256.27 L1399.93,257.98 L1400.44,259.71 L1400.93,261.46 L1401.42,263.24 L1401.91,265.03 L1402.39,266.85 L1402.86,268.69 L1403.33,270.55 L1403.80,272.43 L1404.26,274.33 L1404.71,276.25 L1405.16,278.20 L1405.61,280.16 L1406.05,282.15 L1406.48,284.15 L1406.91,286.18 L1407.34,288.23 L1407.76,290.30 L1408.17,292.39 L1408.58,294.50 L1408.98,296.63 L1409.38,298.78 L1409.77,300.96 L1410.16,303.15 L1410.54,305.36 L1410.92,307.59 L1411.29,309.84 L1411.66,312.12 L1412.02,314.41 L1412.38,316.72 L1412.73,319.05 L1413.07,321.40 L1413.41,323.76 L1413.75,326.15 L1414.08,328.56 L1414.40,330.98 L1414.72,333.42 L1415.03,335.88 L1415.34,338.36 L1415.64,340.86 L1415.94,343.37 L1416.23,345.91 L1416.52,348.45 L1416.80,351.02 L1417.08,353.60 L1417.35,356.20 L1417.61,358.82 L1417.87,361.45 L1418.13,364.10 L1418.38,366.77 L1418.62,369.45 L1418.86,372.14 L1419.09,374.86 L1419.32,377.58 L1419.54,380.32 L1419.76,383.08 L1419.97,385.85 L1420.17,388.64 L1420.37,391.43 L1420.57,394.25 L1420.76,397.07 L1420.94,399.91 L1421.12,402.76 L1421.29,405.63 L1421.46,408.51 L1421.62,411.39 L1421.78,414.30 L1421.93,417.21 L1422.08,420.14 L1422.22,423.07 L1422.35,426.02 L1422.48,428.98 L1422.60,431.95 L1422.72,434.93 L1422.84,437.92 L1422.94,440.92 L1423.04,443.94 L1423.14,446.96 L1423.23,449.99 L1423.32,453.03 L1423.40,456.08 L1423.47,459.15 L1423.54,462.22 L1423.61,465.30 L1423.67,468.39 L1423.72,471.50 L1423.77,474.61 L1423.81,477.74 L1423.85,480.88 L1423.88,484.04 L1423.90,487.22 L1423.92,490.42 L1423.94,493.66 L1424.37,497.00" fill="none" stroke="#000" stroke-width="5.50"/>
</g>
<g stroke="#000" stroke-width="3.00"><line x1="1005.54" y1="497.00" x2="1005.54" y2="484.50"/><line x1="1195.14" y1="497.00" x2="1195.14" y2="484.50"/><line x1="1384.74" y1="497.00" x2="1384.74" y2="484.50"/><line x1="929.70" y1="497.00" x2="942.20" y2="497.00"/><line x1="929.70" y1="416.18" x2="942.20" y2="416.18"/><line x1="929.70" y1="335.37" x2="942.20" y2="335.37"/><line x1="929.70" y1="254.55" x2="942.20" y2="254.55"/><line x1="929.70" y1="173.73" x2="942.20" y2="173.73"/><line x1="929.70" y1="92.92" x2="942.20" y2="92.92"/><line x1="929.70" y1="12.10" x2="942.20" y2="12.10"/></g>
<rect x="929.70" y="12.10" width="568.80" height="484.90" fill="none" stroke="#000" stroke-width="3.30"/>
<line x1="962.10" y1="61.20" x2="1045.90" y2="61.20" stroke="#000" stroke-width="5.50"/>
<g fill="#000"><text class="t" font-size="41.000" transform="translate(94.35,536.90) scale(1.0000,1.0000)">0</text>
<text class="t" font-size="41.000" transform="translate(311.47,536.90) scale(1.0000,1.0000)">10</text>
<text class="t" font-size="41.000" transform="translate(539.44,536.90) scale(1.0000,1.0000)">20</text>
<text class="t" font-size="41.000" transform="translate(984.49,536.90) scale(1.0000,1.0000)">10</text>
<text class="t" font-size="41.000" transform="translate(1174.59,536.90) scale(1.0000,1.0000)">15</text>
<text class="t" font-size="41.000" transform="translate(1364.14,536.90) scale(1.0000,1.0000)">20</text>
<text class="t" font-size="41.000" transform="translate(72.30,425.20) scale(1.0000,1.0000)">5</text>
<text class="t" font-size="41.000" transform="translate(51.30,325.40) scale(1.0000,1.0000)">10</text>
<text class="t" font-size="41.000" transform="translate(52.30,225.60) scale(1.0000,1.0000)">15</text>
<text class="t" font-size="41.000" transform="translate(51.30,125.80) scale(1.0000,1.0000)">20</text>
<text class="t" font-size="41.000" transform="translate(52.30,26.00) scale(1.0000,1.0000)">25</text>
<text class="t" font-size="41.000" transform="translate(866.00,510.90) scale(1.0000,1.0000)">0.0</text>
<text class="t" font-size="41.000" transform="translate(866.00,430.08) scale(1.0000,1.0000)">2.5</text>
<text class="t" font-size="41.000" transform="translate(866.00,349.27) scale(1.0000,1.0000)">5.0</text>
<text class="t" font-size="41.000" transform="translate(866.00,268.45) scale(1.0000,1.0000)">7.5</text>
<text class="t" font-size="41.000" transform="translate(846.00,187.63) scale(1.0000,1.0000)">10.0</text>
<text class="t" font-size="41.000" transform="translate(846.00,106.82) scale(1.0000,1.0000)">12.5</text>
<text class="t" font-size="41.000" transform="translate(846.00,26.00) scale(1.0000,1.0000)">15.0</text>
<text class="s" font-size="38.000" transform="translate(137.92,584.20) scale(1.1440,1.0000)"><tspan font-size="39.1">I</tspan><tspan font-size="33.0">n</tspan><tspan font-size="36.8">i</tspan><tspan font-size="34.4">t</tspan><tspan font-size="36.8">i</tspan><tspan font-size="33.0">a</tspan><tspan font-size="36.8">l</tspan></text>
<text class="s" font-size="38.000" transform="translate(243.92,584.20) scale(1.0776,1.0000)"><tspan font-size="33.0">e</tspan><tspan font-size="36.8">l</tspan><tspan font-size="33.0">ec</tspan><tspan font-size="34.4">t</tspan><tspan font-size="33.0">ron</tspan></text>
<text class="s" font-size="38.000" transform="translate(385.66,584.20) scale(1.0370,1.0000)"><tspan font-size="33.0">energy</tspan></text>
<text class="t" font-size="28.200" transform="translate(528.22,590.30) scale(1.0750,1.0000)">0</text>
<text class="s" font-size="38.000" transform="translate(577.59,584.20) scale(0.9717,1.0000)"><tspan font-size="36.8">k</tspan><tspan font-size="33.0">e</tspan><tspan font-size="39.1">V</tspan></text>
<text class="s" font-size="38.000" transform="translate(962.62,584.20) scale(1.1440,1.0000)"><tspan font-size="39.1">I</tspan><tspan font-size="33.0">n</tspan><tspan font-size="36.8">i</tspan><tspan font-size="34.4">t</tspan><tspan font-size="36.8">i</tspan><tspan font-size="33.0">a</tspan><tspan font-size="36.8">l</tspan></text>
<text class="s" font-size="38.000" transform="translate(1068.62,584.20) scale(1.0776,1.0000)"><tspan font-size="33.0">e</tspan><tspan font-size="36.8">l</tspan><tspan font-size="33.0">ec</tspan><tspan font-size="34.4">t</tspan><tspan font-size="33.0">ron</tspan></text>
<text class="s" font-size="38.000" transform="translate(1210.36,584.20) scale(1.0370,1.0000)"><tspan font-size="33.0">energy</tspan></text>
<text class="t" font-size="28.200" transform="translate(1352.92,590.30) scale(1.0750,1.0000)">0</text>
<text class="s" font-size="38.000" transform="translate(1402.29,584.20) scale(0.9717,1.0000)"><tspan font-size="36.8">k</tspan><tspan font-size="33.0">e</tspan><tspan font-size="39.1">V</tspan></text>
<text class="s" font-size="38.000" transform="translate(29.50,506.14) rotate(-90) scale(0.8478,1.0000)"><tspan font-size="39.1">R</tspan></text>
<text class="s" font-size="38.000" transform="translate(29.50,481.77) rotate(-90) scale(1.0699,1.0000)"><tspan font-size="33.0">ema</tspan><tspan font-size="36.8">i</tspan><tspan font-size="33.0">n</tspan><tspan font-size="36.8">i</tspan><tspan font-size="33.0">ng</tspan></text>
<text class="s" font-size="38.000" transform="translate(29.50,322.23) rotate(-90) scale(1.0280,1.0000)"><tspan font-size="33.0">energy</tspan></text>
<text class="s" font-size="38.000" transform="translate(29.50,162.03) rotate(-90) scale(1.0296,1.0000)"><tspan font-size="33.0">a</tspan><tspan font-size="34.4">t</tspan></text>
<text class="s" font-size="38.000" transform="translate(29.50,62.66) rotate(-90) scale(0.9550,1.0000)"><tspan font-size="36.8">k</tspan><tspan font-size="33.0">e</tspan><tspan font-size="39.1">V</tspan></text>
<text class="s" font-size="38.000" transform="translate(823.80,505.74) rotate(-90) scale(0.8478,1.0000)"><tspan font-size="39.1">R</tspan></text>
<text class="s" font-size="38.000" transform="translate(823.80,481.37) rotate(-90) scale(1.0699,1.0000)"><tspan font-size="33.0">ema</tspan><tspan font-size="36.8">i</tspan><tspan font-size="33.0">n</tspan><tspan font-size="36.8">i</tspan><tspan font-size="33.0">ng</tspan></text>
<text class="s" font-size="38.000" transform="translate(823.80,321.83) rotate(-90) scale(1.0280,1.0000)"><tspan font-size="33.0">energy</tspan></text>
<text class="s" font-size="38.000" transform="translate(823.80,161.63) rotate(-90) scale(1.0296,1.0000)"><tspan font-size="33.0">a</tspan><tspan font-size="34.4">t</tspan></text>
<text class="s" font-size="38.000" transform="translate(823.80,62.27) rotate(-90) scale(0.9550,1.0000)"><tspan font-size="36.8">k</tspan><tspan font-size="33.0">e</tspan><tspan font-size="39.1">V</tspan></text>
<text class="s" font-size="38.000" transform="translate(249.60,75.20) scale(0.9500,1.0000)">0.02</text>
<text class="s" font-size="34.600" transform="translate(333.82,75.20) scale(1.0889,1.0000)">µm</text>
<text class="s" font-size="38.000" transform="translate(249.28,129.50) scale(0.9612,1.0000)">0.2</text>
<text class="s" font-size="34.600" transform="translate(314.74,129.50) scale(1.0800,1.0000)">µm</text>
<text class="s" font-size="38.000" transform="translate(249.77,184.60) scale(0.9647,1.0000)">2</text>
<text class="s" font-size="34.600" transform="translate(284.13,184.60) scale(1.0867,1.0000)">µm</text>
<text class="s" font-size="38.000" transform="translate(1073.98,75.10) scale(1.0118,1.0000)">2</text>
<text class="s" font-size="34.600" transform="translate(1108.59,75.10) scale(1.1044,1.0000)">µm</text>
<text class="s" font-size="35.500" transform="translate(628.32,448.70) scale(0.7889,1.0000)" stroke="#000" stroke-width="0.6">a</text>
<text class="s" font-size="38.000" transform="translate(1453.09,448.90) scale(0.9706,1.0000)">b</text>
<text class="t" font-size="28.200" transform="translate(1023.98,265.80) scale(1.1182,1.0000)">0,1</text>
<text class="t" font-size="28.200" transform="translate(1262.29,133.70) scale(1.2128,1.0000)">0,1′</text>
<text class="t" font-size="28.200" transform="translate(1387.29,133.70) scale(1.2128,1.0000)">0,2′</text>
<text class="t" font-size="28.200" transform="translate(1437.54,265.80) scale(1.1576,1.0000)">0,2</text></g>
<g fill="#000"><use href="#Tg" transform="translate(505.80,584.20) scale(1.0112,1)"/><use href="#Tg" transform="translate(1330.50,584.20) scale(1.0112,1)"/><use href="#Tg" transform="translate(29.50,204.00) rotate(-90) scale(1.0412,1)"/><use href="#Tg" transform="translate(823.80,203.60) rotate(-90) scale(1.0412,1)"/><use href="#Tg" transform="translate(1002.70,259.50) scale(0.9813,1)"/><use href="#Tg" transform="translate(1241.10,127.40) scale(0.9813,1)"/><use href="#Tg" transform="translate(1366.10,127.40) scale(0.9813,1)"/><use href="#Tg" transform="translate(1416.30,259.50) scale(0.9813,1)"/></g>
<g fill="#000" stroke="#000"><g transform="translate(29.50,115.90) rotate(-90)"><path d="M1.2,-12.1C2,-15.5 4.5,-17.2 7,-16.9C9.5,-16.6 10.6,-15 10.3,-13L8.7,-3.6C8.4,-1.5 9.5,-0.1 11.5,-0.2C14,-0.4 16.4,-2.6 17.6,-5.6" fill="none" stroke-width="1.3"/><path d="M10.4,-13.2L8.6,-3.4" fill="none" stroke-width="2.3"/><path d="M17.1,-14.8C16.5,-16.6 13.6,-17.4 10.9,-15.2" fill="none" stroke-width="1.2"/><path d="M1.4,-2.4C2.2,-0.6 5.6,0.2 8.7,-2.0" fill="none" stroke-width="1.2"/><circle cx="16.6" cy="-14.6" r="1.75" stroke="none"/><circle cx="1.9" cy="-2.6" r="1.75" stroke="none"/></g><g transform="translate(823.80,115.50) rotate(-90)"><path d="M1.2,-12.1C2,-15.5 4.5,-17.2 7,-16.9C9.5,-16.6 10.6,-15 10.3,-13L8.7,-3.6C8.4,-1.5 9.5,-0.1 11.5,-0.2C14,-0.4 16.4,-2.6 17.6,-5.6" fill="none" stroke-width="1.3"/><path d="M10.4,-13.2L8.6,-3.4" fill="none" stroke-width="2.3"/><path d="M17.1,-14.8C16.5,-16.6 13.6,-17.4 10.9,-15.2" fill="none" stroke-width="1.2"/><path d="M1.4,-2.4C2.2,-0.6 5.6,0.2 8.7,-2.0" fill="none" stroke-width="1.2"/><circle cx="16.6" cy="-14.6" r="1.75" stroke="none"/><circle cx="1.9" cy="-2.6" r="1.75" stroke="none"/></g></g>
<g stroke="#000" stroke-width="2.2" stroke-linecap="round"><line x1="575.30" y1="555.30" x2="560.40" y2="595.00"/><line x1="1400.00" y1="555.30" x2="1385.10" y2="595.00"/><line x1="0.40" y1="65.10" x2="39.90" y2="79.70"/><line x1="794.70" y1="64.70" x2="834.20" y2="79.30"/></g>
</svg></body></html>
